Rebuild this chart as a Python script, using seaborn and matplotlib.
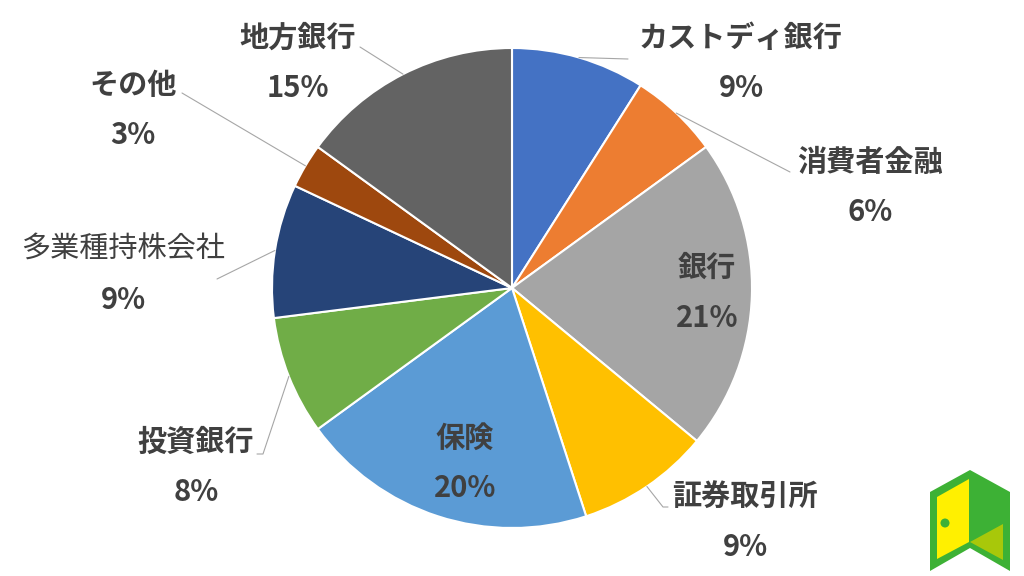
import numpy as np
import matplotlib
matplotlib.use("Agg")
import matplotlib.pyplot as plt
from matplotlib.patches import Polygon, Ellipse
import seaborn as sns

# ---- data ----
categories = ["カストディ銀行", "消費者金融", "銀行", "証券取引所", "保険",
              "投資銀行", "多業種持株会社", "その他", "地方銀行"]
shares = [9, 6, 21, 9, 20, 8, 9, 3, 15]
colors = ["#4472C4", "#ED7D31", "#A5A5A5", "#FFC000", "#5B9BD5",
          "#70AD47", "#264478", "#9E480E", "#636363"]

# ---- layout (pixel positions of label centres, leader end points) ----
label_pos = [(741, 38), (870, 162), (707, 268), (745, 497), (465, 438),
             (196, 442), (123, 250), (133, 85), (298, 38)]
leader_end = [[(628, 59)], [(790, 172)], None, [(663, 507), (668, 507)], None,
              [(263, 454), (257, 454)], [(217, 279)], [(182, 93)], [(360, 47)]]
bold = [True, True, True, True, True, True, False, True, True]

sns.set_theme(style="white")
plt.rcParams['font.family'] = ['Noto Sans CJK JP', 'DejaVu Sans']

W, H = 1024, 576
fig = plt.figure(figsize=(W / 100, H / 100), dpi=100)
cx, cy, R = 512, 288, 240
ax = fig.add_axes([(cx - R) / W, (H - cy - R) / H, 2 * R / W, 2 * R / H])
pal = sns.color_palette(colors)
wedges, _ = ax.pie(shares, colors=pal, startangle=90, counterclock=False,
                   radius=1, wedgeprops=dict(edgecolor="white", linewidth=1.5))
ax.set_xlim(-1, 1)
ax.set_ylim(-1, 1)
ax.set_aspect("equal")
ax.axis("off")


def px2d(p):
    return ((p[0] - cx) / R, (cy - p[1]) / R)


txtc = "#404040"
for i, (cat, v) in enumerate(zip(categories, shares)):
    w = wedges[i]
    mid = np.deg2rad((w.theta1 + w.theta2) / 2)
    start = (np.cos(mid), np.sin(mid))
    if leader_end[i] is not None:
        pts = [start] + [px2d(p) for p in leader_end[i]]
        xs, ys = zip(*pts)
        ax.plot(xs, ys, color="#A6A6A6", lw=0.8, clip_on=False, zorder=1)
    lx, ly = label_pos[i]
    x, y = px2d((lx, ly))
    ax.text(x, y, cat, ha="center", va="center", fontsize=21,
            fontweight="bold" if bold[i] else "normal", color=txtc, clip_on=False)
    x2, y2 = px2d((lx, ly + 50))
    ax.text(x2, y2, f"{v}%", ha="center", va="center", fontsize=21,
            fontweight="bold", color=txtc, clip_on=False)

# ---- logo (door icon) ----
def fp(pts):
    return [(x / W, 1 - y / H) for x, y in pts]

fig.patches.append(Polygon(fp([(930, 492), (970, 470), (1010, 492), (1010, 571),
                               (970, 548), (930, 571)]), closed=True,
                           facecolor="#3DB135", edgecolor="none",
                           transform=fig.transFigure))
fig.patches.append(Polygon(fp([(937, 497), (969, 479), (969, 542), (937, 559)]),
                           closed=True, facecolor="#FFF000", edgecolor="none",
                           transform=fig.transFigure))
fig.patches.append(Polygon(fp([(970, 542), (1003, 524), (1003, 560)]),
                           closed=True, facecolor="#A8C80A", edgecolor="none",
                           transform=fig.transFigure))
fig.patches.append(Ellipse((945 / W, 1 - 523 / H), 9 / W, 9 / H, facecolor="#3DB135",
                           edgecolor="none", transform=fig.transFigure))

fig.savefig("out.png", dpi=100, facecolor="white")
